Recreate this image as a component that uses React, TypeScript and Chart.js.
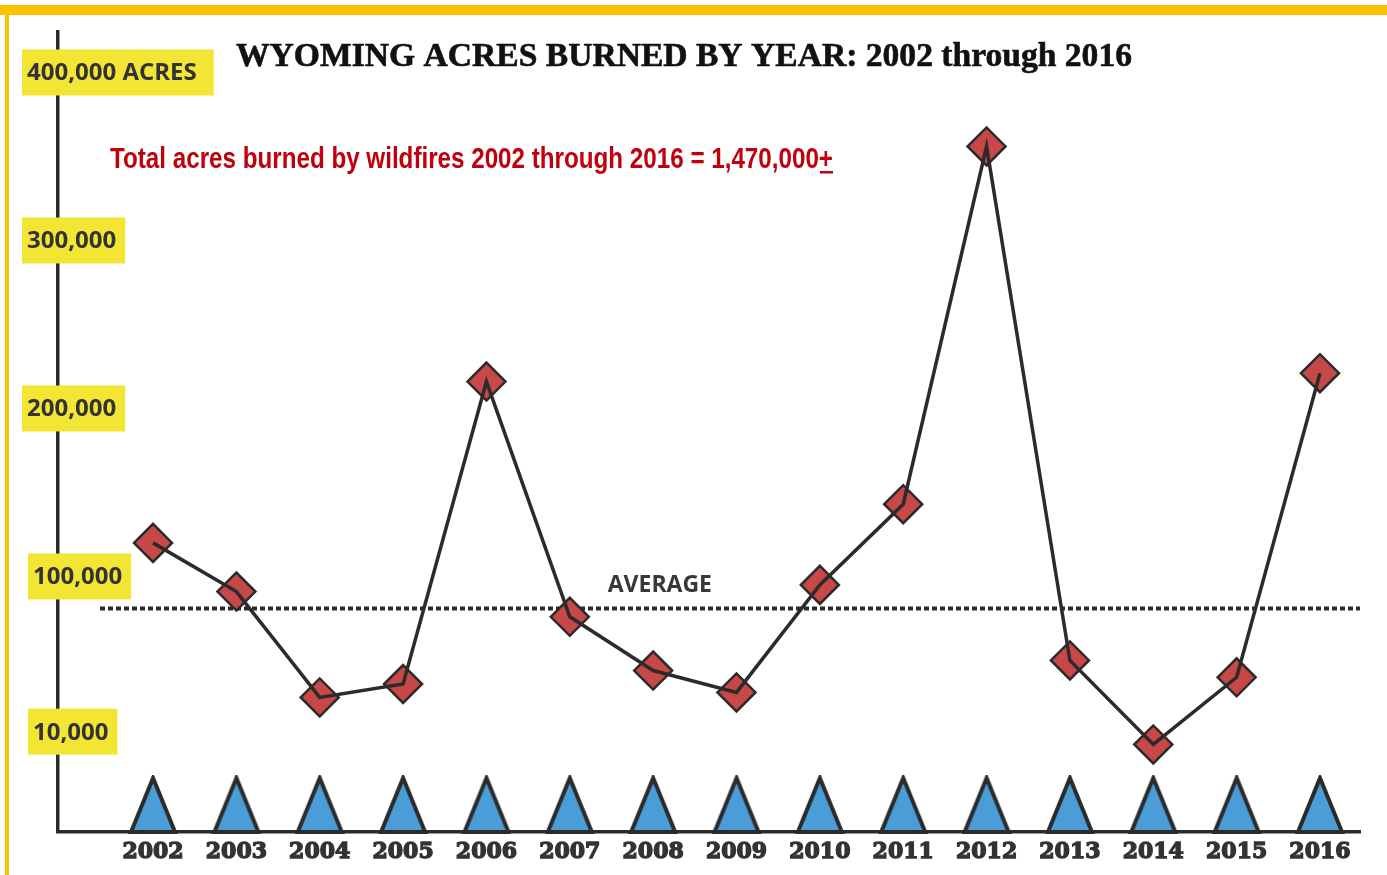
import React, { useEffect, useRef } from 'react';
import { Chart, registerables } from 'chart.js';

Chart.register(...registerables);

// ---------- data ----------
const years = [2002, 2003, 2004, 2005, 2006, 2007, 2008, 2009, 2010, 2011, 2012, 2013, 2014, 2015, 2016];
const acresBurned = [120000, 91000, 28000, 36000, 216000, 76000, 44000, 31000, 95000, 143000, 356000, 50000, 0, 40000, 221000];
const yTickValues = [10000, 100000, 200000, 300000, 400000];
const yTickLabels = ['10,000', '100,000', '200,000', '300,000', '400,000 ACRES'];
const averageAcres = 81000;
const yearMarkerLevel = -36000;
const titleText = 'WYOMING ACRES BURNED BY YEAR: 2002 through 2016';
const subtitleText = 'Total acres burned by wildfires 2002 through 2016 = 1,470,000';
const subtitleSuffix = '+';
const averageLabel = 'AVERAGE';

const INK = '#2b2b2b';

function makeTriangle(): HTMLCanvasElement {
  const c = document.createElement('canvas');
  c.width = 50;
  c.height = 60;
  const ctx = c.getContext('2d')!;
  ctx.beginPath();
  ctx.moveTo(25, 3);
  ctx.lineTo(47, 57);
  ctx.lineTo(3, 57);
  ctx.closePath();
  ctx.fillStyle = '#4b9dd8';
  ctx.fill();
  ctx.lineJoin = 'miter';
  ctx.lineWidth = 4;
  ctx.strokeStyle = INK;
  ctx.stroke();
  return c;
}

function fitText(ctx: CanvasRenderingContext2D, text: string, x: number, y: number, width: number, stroke = 0) {
  const w = ctx.measureText(text).width;
  const s = width / w;
  ctx.save();
  ctx.translate(x, y);
  ctx.scale(s, 1);
  ctx.fillText(text, 0, 0);
  if (stroke > 0) {
    ctx.lineWidth = stroke;
    ctx.strokeStyle = ctx.fillStyle as string;
    ctx.strokeText(text, 0, 0);
  }
  ctx.restore();
  return s;
}

const decorPlugin = {
  id: 'decor',
  beforeDraw(chart: any) {
    const { ctx, width, height } = chart;
    ctx.save();
    ctx.fillStyle = '#ffffff';
    ctx.fillRect(0, 0, width, height);
    ctx.fillStyle = '#fcc200';
    ctx.fillRect(0, 5, width, 10);
    ctx.fillRect(5, 5, 4, height - 5);
    ctx.restore();
  },
  beforeDatasetsDraw(chart: any) {
    const { ctx, chartArea, scales } = chart;
    const y = scales.y.getPixelForValue(averageAcres);
    ctx.save();
    ctx.strokeStyle = INK;
    ctx.lineWidth = 4;
    ctx.setLineDash([5, 3]);
    ctx.beginPath();
    ctx.moveTo(chartArea.left + 42, y);
    ctx.lineTo(chartArea.right, y);
    ctx.stroke();
    ctx.setLineDash([]);
    ctx.fillStyle = '#383838';
    ctx.font = 'bold 23px "Open Sans", sans-serif';
    ctx.textAlign = 'center';
    ctx.textBaseline = 'alphabetic';
    ctx.fillText(averageLabel, scales.x.getPixelForValue(2008.08), y - 16);
    ctx.restore();
  },
  afterDraw(chart: any) {
    const { ctx, scales } = chart;
    ctx.save();
    // y tick labels in yellow boxes
    ctx.font = 'bold 24px "Open Sans", sans-serif';
    ctx.textBaseline = 'middle';
    ctx.textAlign = 'left';
    yTickValues.forEach((v, i) => {
      const label = yTickLabels[i];
      const py = scales.y.getPixelForValue(v) + (v < 50000 ? 4 : 0);
      const left = v < 150000 ? 28 : 22;
      const tw = ctx.measureText(label).width;
      const bw = tw + 6 + (label.length > 8 ? 16 : 8);
      ctx.fillStyle = '#f2e534';
      ctx.fillRect(left, py - 23, bw, 46);
      ctx.fillStyle = '#333333';
      ctx.fillText(label, left + 5, py + 1);
    });
    // x labels
    ctx.font = 'bold 22px "DejaVu Serif", serif';
    ctx.textAlign = 'center';
    ctx.textBaseline = 'middle';
    ctx.fillStyle = '#333333';
    ctx.strokeStyle = '#333333';
    ctx.lineWidth = 1.4;
    years.forEach((yr) => {
      const px = scales.x.getPixelForValue(yr);
      ctx.fillText(String(yr), px, 852);
      ctx.strokeText(String(yr), px, 852);
    });
    // title
    ctx.textAlign = 'left';
    ctx.textBaseline = 'alphabetic';
    ctx.fillStyle = '#111111';
    ctx.font = 'bold 33px "Liberation Serif", serif';
    fitText(ctx, titleText, 236, 66, 896, 0.6);
    // subtitle
    ctx.fillStyle = '#c0000c';
    ctx.font = 'bold 30px "Liberation Sans", Arial, sans-serif';
    const full = subtitleText + subtitleSuffix;
    const s = fitText(ctx, full, 110, 168, 723);
    const mainW = ctx.measureText(subtitleText).width * s;
    const sufW = ctx.measureText(subtitleSuffix).width * s;
    ctx.fillRect(110 + mainW + 1, 171, sufW - 1, 2.5);
    ctx.restore();
  },
};

export default function App() {
  const ref = useRef<HTMLCanvasElement>(null);
  useEffect(() => {
    if (!ref.current) return;
    const tri = makeTriangle();
    const pts = years.map((yr, i) => ({ x: yr, y: acresBurned[i] }));
    const chart = new Chart(ref.current, {
      type: 'line',
      data: {
        datasets: [
          {
            label: 'Acres burned',
            data: pts,
            borderColor: INK,
            borderWidth: 3.5,
            pointRadius: 0,
            tension: 0,
            order: 0,
            clip: false,
          } as any,
          {
            label: 'Acres burned (markers)',
            data: pts,
            showLine: false,
            pointStyle: 'rectRot',
            pointRadius: 19,
            pointBackgroundColor: '#c84747',
            pointBorderColor: INK,
            pointBorderWidth: 2.5,
            order: 1,
            clip: false,
          } as any,
          {
            label: 'Year',
            data: years.map((yr) => ({ x: yr, y: yearMarkerLevel })),
            showLine: false,
            pointStyle: tri,
            pointRadius: 24,
            order: 2,
            clip: false,
          } as any,
        ],
      },
      options: {
        responsive: false,
        animation: false,
        events: [],
        layout: { autoPadding: false, padding: { left: 58, top: 32, right: 27, bottom: 43 } },
        plugins: { legend: { display: false }, tooltip: { enabled: false }, title: { display: false } },
        scales: {
          x: {
            type: 'linear',
            min: 2000.86,
            max: 2016.48,
            ticks: { display: false },
            grid: { display: false, drawTicks: false },
            border: { display: true, color: INK, width: 3.5 },
          },
          y: {
            type: 'linear',
            min: -52100,
            max: 424100,
            ticks: { display: false },
            grid: { display: false, drawTicks: false },
            border: { display: true, color: INK, width: 3.5 },
          },
        },
      } as any,
      plugins: [decorPlugin],
    });
    return () => chart.destroy();
  }, []);
  return (
    <div style={{ position: 'fixed', left: 0, top: 0, width: 1387, height: 875, background: '#fff' }}>
      <canvas ref={ref} width={1387} height={875} style={{ display: 'block', width: 1387, height: 875 }} />
    </div>
  );
}
